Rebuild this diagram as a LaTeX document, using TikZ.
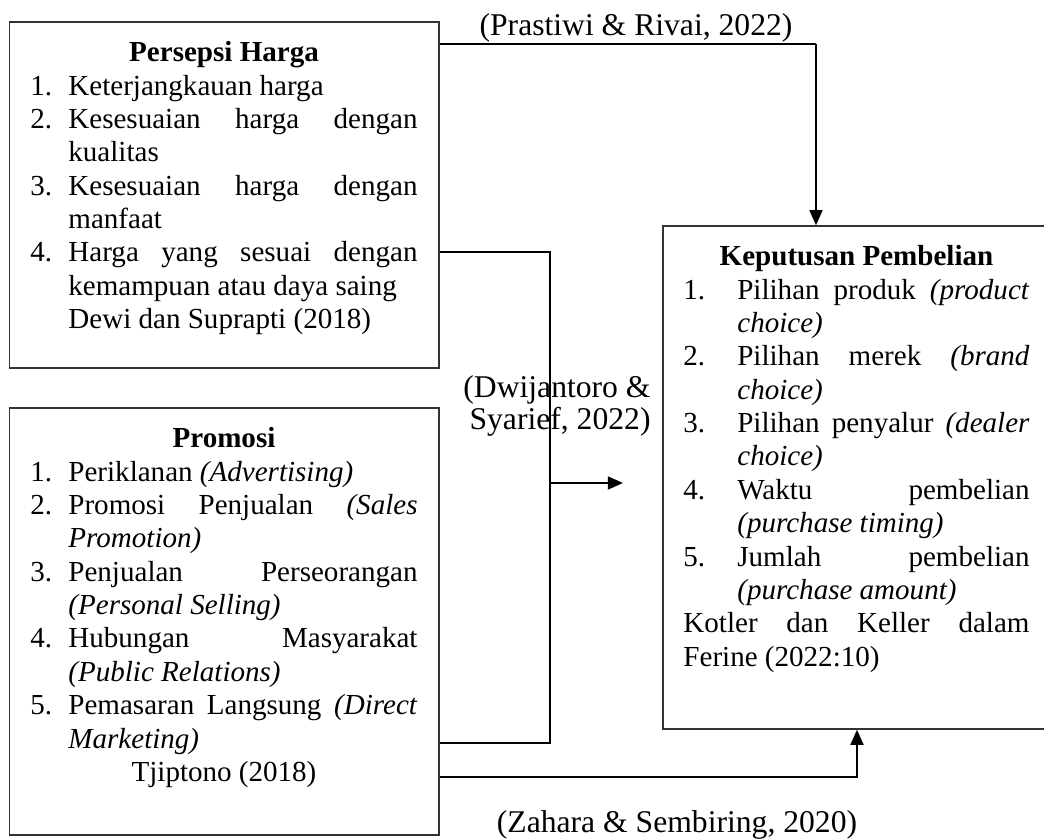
\documentclass[tikz,border=0pt]{standalone}
\usepackage{fontspec}
\setmainfont{Liberation Serif}
\usetikzlibrary{arrows.meta, fit}
\newlength{\lebarlabel}
\newcommand{\butir}[1]{\par\noindent\hangindent=\lebarlabel\hangafter=1\makebox[\lebarlabel][l]{#1}\ignorespaces}
\newcommand{\judul}[1]{{\centering\textbf{#1}\par}}

\begin{document}
\begin{tikzpicture}[x=0.015cm, y=-0.015cm,
  kotak/.style={draw=black!80, line width=0.6pt, inner sep=0pt},
  isi/.style={anchor=north west, inner sep=0pt, align=justify,
    font=\fontsize{12.4pt}{14.25pt}\selectfont},
  sumber/.style={inner sep=0pt, font=\fontsize{13.5pt}{11.3pt}\selectfont},
  garis/.style={line width=0.45pt},
  panah/.style={line width=1pt, -{Triangle[length=6.5pt, width=5.5pt]}}]
\useasboundingbox (0,0) rectangle (1044,839);

% kotak variabel
\node[kotak, fit={(9.5,22) (439,368)}] (harga) {};
\node[kotak, fit={(9.5,408) (439,835)}] (promosi) {};
\node[kotak, fit={(663,226) (1052,729)}] (keputusan) {};

% isi kotak
\node[isi, text width=165.2pt] (teksharga) at (30,41) {\setlength{\lebarlabel}{16.2pt}%
  \judul{Persepsi Harga}
  \butir{1.} Keterjangkauan harga
  \butir{2.} Kesesuaian harga dengan\linebreak kualitas
  \butir{3.} Kesesuaian harga dengan\linebreak manfaat
  \butir{4.} Harga yang sesuai dengan\linebreak kemampuan atau daya saing\newline
  Dewi dan Suprapti (2018)\par};
\node[isi, text width=165.2pt] (tekspromosi) at (30,427) {\setlength{\lebarlabel}{16.2pt}%
  \judul{Promosi}
  \butir{1.} Periklanan \textit{(Advertising)}
  \butir{2.} Promosi Penjualan \textit{(Sales}\linebreak \textit{Promotion)}
  \butir{3.} Penjualan Perseorangan\linebreak \textit{(Personal Selling)}
  \butir{4.} Hubungan Masyarakat\linebreak \textit{(Public Relations)}
  \butir{5.} Pemasaran Langsung \textit{(Direct}\linebreak \textit{Marketing)}
  \par{\centering Tjiptono (2018)\par}};
\node[isi, text width=147.7pt] (tekskeputusan) at (683,245) {\setlength{\lebarlabel}{23pt}%
  \judul{Keputusan Pembelian}
  \butir{1.} Pilihan produk \textit{(product}\linebreak \textit{choice)}
  \butir{2.} Pilihan merek \textit{(brand}\linebreak \textit{choice)}
  \butir{3.} Pilihan penyalur \textit{(dealer}\linebreak \textit{choice)}
  \butir{4.} Waktu pembelian\linebreak \textit{(purchase timing)}
  \butir{5.} Jumlah pembelian\linebreak \textit{(purchase amount)}
  \par\noindent Kotler dan Keller dalam\linebreak Ferine (2022:10)\par};

% titik belok
\coordinate (belok1) at (816,44);
\coordinate (atas2) at (550,252);
\coordinate (bawah2) at (550,743);
\coordinate (cabang) at (550,483);
\coordinate (ujung) at (623,483);
\coordinate (belok3) at (857,777);

% garis hubungan
\draw[garis] (harga.east |- belok1) -- (belok1);
\draw[panah] (belok1) -- (keputusan.north -| belok1);
\draw[garis] (harga.east |- atas2) -- (atas2) -- (bawah2) -- (promosi.east |- bawah2);
\draw[panah] (cabang) -- (ujung);
\draw[panah] (promosi.east |- belok3) -| (keputusan.south -| belok3);

% sumber
\node[sumber] (sumber1) at (636,28) {(Prastiwi \& Rivai, 2022)};
\node[sumber, align=right, anchor=east] (sumber2) at (651,406) {(Dwijantoro \&\\ Syarief, 2022)};
\node[sumber] (sumber3) at (677,825) {(Zahara \& Sembiring, 2020)};
\end{tikzpicture}
\end{document}
